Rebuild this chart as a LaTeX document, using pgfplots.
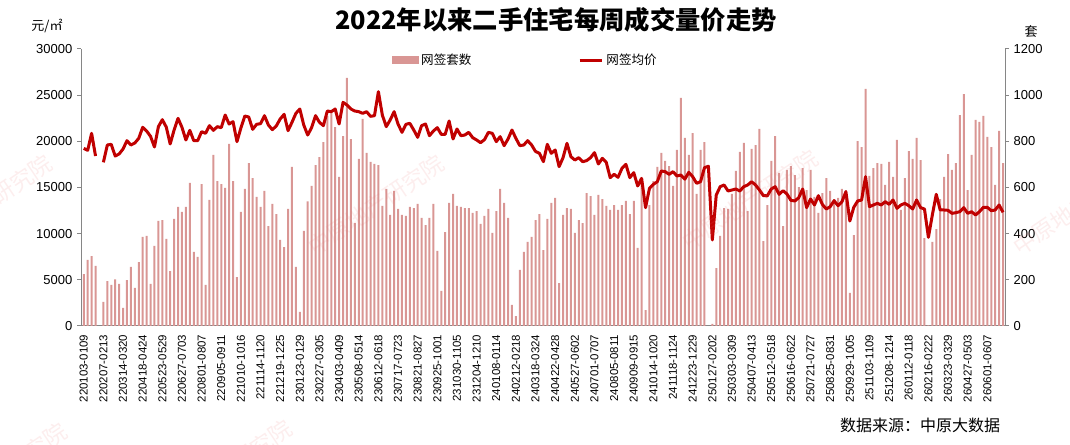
\documentclass[border=0pt]{standalone}
\usepackage{pgfplots}
\pgfplotsset{compat=1.18}
\usepackage{pgfplotstable}
\usepackage{fontspec}
\setmainfont{Liberation Sans}
\newfontfamily\cjk{Noto Sans CJK SC}
\definecolor{barc}{RGB}{217,150,148}
\definecolor{linec}{RGB}{192,0,0}
\definecolor{axc}{RGB}{134,134,134}
\definecolor{wmc}{RGB}{235,120,120}

\pgfplotstableread{
x vol price
1 225 19240
2 286 19025
3 303 20866
4 260 18411
5 nan nan
6 104 17725
7 194 19602
8 178 19675
9 202 18411
10 182 18628
11 78 19169
12 199 20072
13 256 19602
14 165 19819
15 277 20324
16 386 21516
17 390 21119
18 182 20541
19 347 19386
20 455 21588
21 459 22346
22 377 21552
23 238 19711
24 464 21227
25 516 22490
26 494 21516
27 516 20144
28 620 21191
29 321 20072
30 299 20072
31 615 21046
32 178 20866
33 546 21696
34 741 21191
35 628 21588
36 615 21480
37 598 22851
38 789 21877
39 628 22129
40 212 19963
41 494 21443
42 594 22743
43 706 22635
44 641 21299
45 559 21841
46 516 21913
47 585 22779
48 433 21768
49 529 21263
50 485 21660
51 373 22418
52 342 22924
53 507 21155
54 689 22057
55 256 23032
56 61 23501
57 412 21768
58 540 20685
59 607 21480
60 697 22779
61 732 22057
62 797 21696
63 910 23284
64 923 23212
65 862 23501
66 646 21877
67 823 24223
68 1075 23934
69 810 23501
70 446 23284
71 724 23212
72 897 23032
73 750 23212
74 711 22707
75 702 22779
76 697 25378
77 520 22851
78 594 21588
79 481 22310
80 585 23212
81 507 21877
82 481 20974
83 477 21841
84 516 21949
85 511 21227
86 529 20433
87 468 21696
88 437 21877
89 468 20613
90 529 21119
91 325 21480
92 152 20758
93 407 20758
94 533 22202
95 572 20252
96 520 21335
97 516 20613
98 511 20685
99 511 20974
100 490 20397
101 498 20144
102 442 19855
103 477 20180
104 507 20974
105 403 20866
106 498 19963
107 594 20505
108 533 19530
109 468 20252
110 91 21227
111 43 20324
112 243 19530
113 321 19602
114 364 20072
115 386 19602
116 459 18900
117 485 18700
118 329 17797
119 464 19675
120 533 18700
121 555 19061
122 186 17256
123 481 18231
124 511 19783
125 507 18339
126 403 17978
127 459 18231
128 446 17797
129 576 17906
130 563 18231
131 481 18772
132 568 17545
133 550 18158
134 520 17725
135 503 16065
136 524 16426
137 503 16101
138 524 17075
139 542 17509
140 485 16065
141 542 16606
142 338 15162
143 641 15992
144 69 12816
145 524 14909
146 628 15343
147 689 15631
148 750 16787
149 715 16714
150 693 16426
151 607 16714
152 763 16245
153 988 16353
154 815 15900
155 741 16642
156 836 16173
157 572 15451
158 763 15631
159 797 17148
160 nan 17300
161 9 9314
162 251 14187
163 390 15090
164 511 15270
165 507 14621
166 572 14729
167 672 14837
168 754 14621
169 793 15090
170 498 15270
171 767 15631
172 784 15270
173 854 14729
174 368 14115
175 524 14100
176 715 14837
177 823 15090
178 663 14260
179 433 14657
180 676 14296
181 693 13610
182 654 13538
183 602 13899
184 684 14837
185 589 12816
186 676 13754
187 559 13104
188 490 14115
189 576 13177
190 641 12671
191 585 12924
192 550 13574
193 555 13032
194 594 13465
195 589 14548
196 143 11372
197 394 12852
198 801 13538
199 775 13646
200 1027 16173
201 650 12924
202 684 13104
203 706 13285
204 702 13104
205 611 13465
206 711 13177
207 646 13646
208 806 12743
209 503 13104
210 641 13285
211 758 13032
212 724 12671
213 815 13646
214 719 12816
215 381 12671
216 3 9603
217 364 12021
218 420 14260
219 550 12563
220 646 12563
221 745 12527
222 676 12202
223 706 12274
224 914 12382
225 1005 12816
226 589 12202
227 741 12382
228 893 12021
229 884 12382
230 910 12852
231 819 12852
232 775 12491
233 611 12563
234 845 13104
235 706 12310
}\data

\begin{document}
\begin{tikzpicture}
\useasboundingbox (0pt,0pt) rectangle (802.5pt,333.75pt);

\begin{axis}[
  at={(60.75pt,89.25pt)}, anchor=south west,
  scale only axis, width=693pt, height=207.75pt,
  xmin=0.3, xmax=235.5, ymin=0, ymax=1200,
  axis y line*=right, axis x line*=bottom,
  axis line style={-, draw=axc, line width=0.75pt},
  ytick={0,200,...,1200},
  scaled y ticks=false,
  xtick={1,6,...,231},
  xticklabels={220103-0109,220207-0213,220314-0320,220418-0424,220523-0529,220627-0703,220801-0807,220905-0911,221010-1016,221114-1120,221219-1225,230123-0129,230227-0305,230403-0409,230508-0514,230612-0618,230717-0723,230821-0827,230925-1001,231030-1105,231204-1210,240108-0114,240212-0218,240318-0324,240422-0428,240527-0602,240701-0707,240805-0811,240909-0915,241014-1020,241118-1124,241223-1229,250127-0202,250303-0309,250407-0413,250512-0518,250616-0622,250721-0727,250825-0831,250929-1005,251103-1109,251208-1214,260112-0118,260216-0222,260323-0329,260427-0503,260601-0607},
  xtick style={draw=none},
  ytick style={draw=axc, line width=0.75pt},
  tick align=outside, major tick length=3pt,
  yticklabel style={font=\fontsize{9.75}{10}\selectfont},
  xticklabel style={rotate=90, anchor=east, font=\fontsize{8.6}{9}\selectfont},
  /pgf/number format/assume math mode=true,
  /pgf/number format/1000 sep={},
]
\addplot[ybar, bar width=1.5pt, fill=barc, draw=none] table[x=x, y=vol] {\data};
\end{axis}

\begin{axis}[
  at={(60.75pt,89.25pt)}, anchor=south west,
  scale only axis, width=693pt, height=207.75pt,
  xmin=0.3, xmax=235.5, ymin=0, ymax=30000,
  axis y line*=left, axis x line=none,
  axis line style={-, draw=axc, line width=0.75pt},
  ytick={0,5000,...,30000},
  scaled y ticks=false,
  ytick style={draw=axc, line width=0.75pt},
  tick align=outside, major tick length=3pt,
  yticklabel style={font=\fontsize{9.75}{10}\selectfont},
  /pgf/number format/assume math mode=true,
  /pgf/number format/1000 sep={},
  legend columns=2,
  legend style={at={(0.332,0.96)}, anchor=west, draw=none, fill=none,
    font=\fontsize{9.4}{10}\selectfont,
    /tikz/every even column/.append style={column sep=78pt}},
]
\addlegendimage{legend image code/.code={\fill[barc] (0pt,-2.6pt) rectangle (19.5pt,2.6pt);}}
\addlegendentry{\cjk 网签套数}
\addplot[linec, line width=2.25pt, mark=none, unbounded coords=jump, line join=round] table[x=x, y=price] {\data};
\addlegendentry{\cjk 网签均价}
\end{axis}

\node[font=\cjk\bfseries\fontsize{19}{20}\selectfont] at (417pt,318.75pt) {2022年以来二手住宅每周成交量价走势};
\node[font=\cjk\fontsize{9.75}{10}\selectfont] at (35.25pt,313.9pt) {元/㎡};
\node[font=\cjk\fontsize{9.75}{10}\selectfont] at (773.25pt,309.75pt) {套};
\node[font=\cjk\fontsize{12}{12}\selectfont] at (690pt,15pt) {数据来源：中原大数据};

\begin{scope}
\clip (0pt,0pt) rectangle (802.5pt,333.75pt);
\foreach \cx/\cy in {376/205, 750/200, -16/205, 1081/205, 224/470, -1/473}{
  \node[rotate=34, text=wmc, text opacity=0.13, font=\cjk\fontsize{17}{17}\selectfont] at ({\cx*0.75pt},{(445-\cy)*0.75pt}) {中原地产研究院};
}
\end{scope}
\end{tikzpicture}
\end{document}
